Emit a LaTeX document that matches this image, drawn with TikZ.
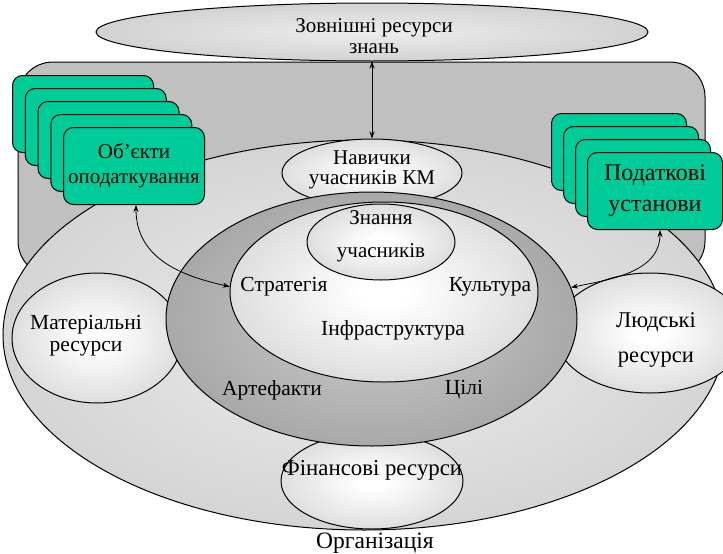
\documentclass[tikz,border=0pt]{standalone}
\usepackage{fontspec}
\setmainfont{Liberation Serif}
\usetikzlibrary{shapes.geometric,arrows.meta}
\definecolor{boxgreen}{RGB}{0,204,153}
\definecolor{rectgray}{RGB}{192,192,192}
\pgfdeclareradialshading{orgshade}{\pgfpoint{0bp}{0bp}}{rgb(0bp)=(0.93,0.93,0.93); rgb(50bp)=(0.74,0.74,0.74)}
\pgfdeclareradialshading{topshade}{\pgfpoint{0bp}{0bp}}{rgb(0bp)=(0.93,0.93,0.93); rgb(50bp)=(0.72,0.72,0.72)}
\pgfdeclareradialshading{ballshade}{\pgfpoint{0bp}{0bp}}{rgb(0bp)=(1,1,1); rgb(4bp)=(1,1,1); rgb(25bp)=(0.87,0.87,0.87); rgb(50bp)=(0.7,0.7,0.7)}
\pgfdeclareradialshading{ringshade}{\pgfpoint{0bp}{0bp}}{rgb(0bp)=(0.8,0.8,0.8); rgb(36bp)=(0.6,0.6,0.6); rgb(50bp)=(0.47,0.47,0.47)}
\tikzset{
  oval/.style={ellipse, draw=black, line width=1pt, inner sep=0pt},
  gbox/.style={draw=black, line width=1pt, fill=boxgreen, rounded corners=10pt,
    minimum width=141pt, minimum height=77pt, inner sep=0pt, align=center},
  rbox/.style={gbox, minimum width=135pt},
  lbl/.style={font=\fontsize{21.5}{22}\selectfont, align=center, inner sep=0pt},
  arr/.style={line width=0.8pt, {Stealth[length=7pt,width=5pt]}-{Stealth[length=7pt,width=5pt]}},
}
\begin{document}
\begin{tikzpicture}[x=1pt,y=-1pt]
\useasboundingbox (0,0) rectangle (723,554);
% gray rounded rectangle
\draw[fill=rectgray, line width=1pt, rounded corners=35pt] (18,62) rectangle (705,276);
% external resources
\node[oval, shading=topshade, minimum width=552pt, minimum height=58pt] (ext) at (372,32) {};
% organisation ellipse
\node[oval, shading=orgshade, minimum width=722pt, minimum height=390pt] (org) at (364,335) {};
% resource ellipses
\node[oval, shading=ballshade, minimum width=180pt, minimum height=68pt] (skills) at (372,173) {};
\node[oval, shading=ballshade, minimum width=170pt, minimum height=130pt] (mat) at (97,338) {};
\node[oval, shading=ballshade, minimum width=190pt, minimum height=120pt] (hum) at (650,333) {};
\node[oval, shading=ballshade, minimum width=182pt, minimum height=96pt] (fin) at (372,481) {};
% dark ring
\node[oval, shading=ringshade, minimum width=411pt, minimum height=254pt] (ring) at (371.5,319) {};
% inner ellipse
\node[oval, shading=ballshade, minimum width=308pt, minimum height=180pt] (inner) at (384,292) {};
% knowledge
\node[oval, shading=ballshade, minimum width=148pt, minimum height=76pt] (know) at (381,242) {};
% left stack
\node[gbox, anchor=north west] (l1) at (12,75) {};
\node[gbox, anchor=north west] (l2) at (24.75,88) {};
\node[gbox, anchor=north west] (l3) at (37.5,101) {};
\node[gbox, anchor=north west] (l4) at (50.25,114) {};
\node[gbox, anchor=north west, font=\fontsize{21}{25}\selectfont] (lobj) at (63,127) {Об’єкти\\оподаткування};
% right stack
\node[rbox, anchor=north west] (r1) at (551,113) {};
\node[rbox, anchor=north west] (r2) at (563,126) {};
\node[rbox, anchor=north west] (r3) at (575,139) {};
\node[rbox, anchor=north west, font=\fontsize{24}{31}\selectfont] (rtax) at (587,152) {Податкові\\установи};
% arrows
\draw[arr] (ext.south) -- (skills.north);
\draw[arr] ([xshift=2pt]lobj.south) .. controls +(0,55) and +(-45,-10) .. (inner.178);
\draw[arr] ([xshift=5pt]rtax.south) .. controls +(0,42) and +(40,-8) .. (ring.9);
% labels
\node[lbl, font=\fontsize{21}{21}\selectfont] (textext) at (374,36) {Зовнішні ресурси\\знань};
\node[lbl, font=\fontsize{21}{20}\selectfont] (textskills) at (372,170) {Навички\\учасників КМ};
\node[lbl, font=\fontsize{21}{33}\selectfont] (textknow) at (381,236) {Знання\\учасників};
\node[lbl] (tstrat) at (284,287) {Стратегія};
\node[lbl] (tcult) at (490,287) {Культура};
\node[lbl] (tinfra) at (393,330) {Інфраструктура};
\node[lbl] (tart) at (272,390) {Артефакти};
\node[lbl] (tgoal) at (464,390) {Цілі};
\node[lbl] (tmat) at (86,336) {Матеріальні\\ресурси};
\node[lbl, font=\fontsize{22.5}{35}\selectfont] (thum) at (656,340) {Людські\\ресурси};
\node[lbl, font=\fontsize{22.8}{24}\selectfont] (tfin) at (372,470) {Фінансові ресурси};
\node[lbl, font=\fontsize{23.5}{24}\selectfont] (torg) at (375,543) {Організація};
\end{tikzpicture}
\end{document}
